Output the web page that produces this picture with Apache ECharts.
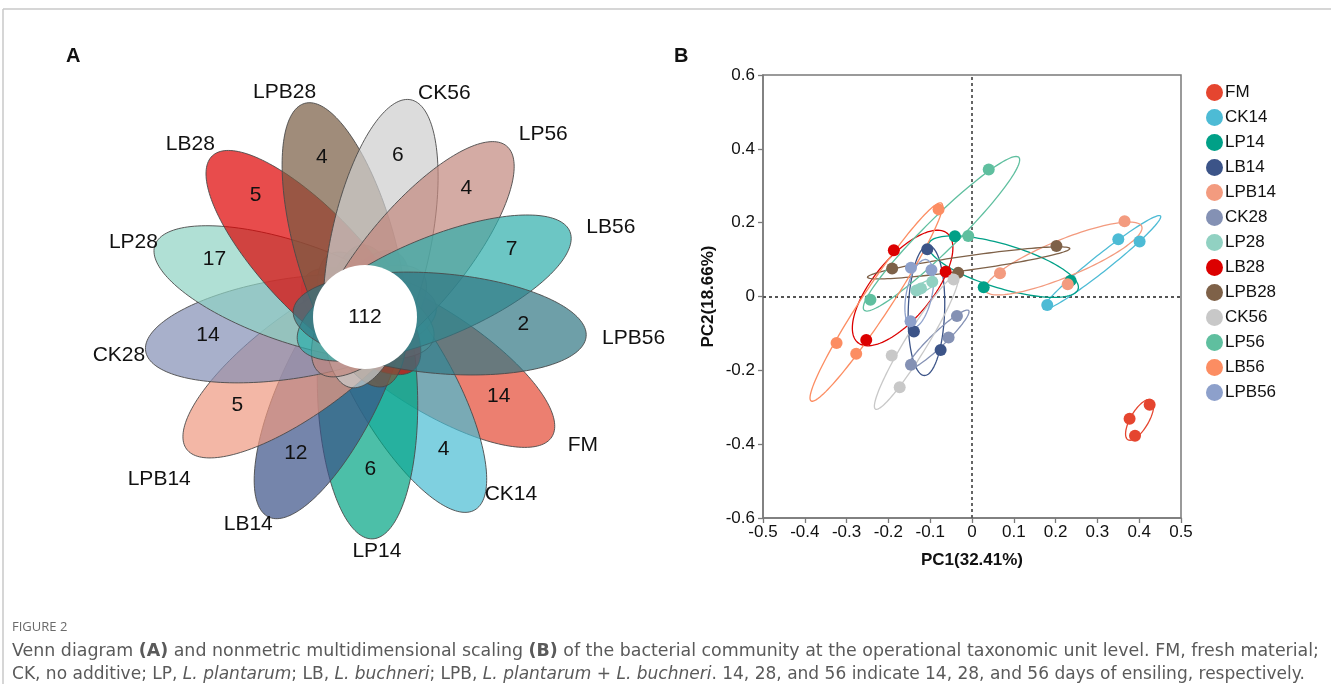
<!DOCTYPE html>
<html><head><meta charset="utf-8">
<script src="https://cdn.jsdelivr.net/npm/echarts@6/dist/echarts.min.js"></script>
<style>html,body{margin:0;padding:0;background:#fff}#c{width:1331px;height:684px}</style>
</head><body><div id="c"></div>
<script>
// ---------- shared ----------
const groups = ['FM','CK14','LP14','LB14','LPB14','CK28','LP28','LB28','LPB28','CK56','LP56','LB56','LPB56'];

// ---------- Panel A: flower Venn ----------
const vennCounts = [14, 4, 6, 12, 5, 14, 17, 5, 4, 6, 4, 7, 2];
const coreCount = 112;
const vennColors = [
  'rgba(228,72,51,0.7)', 'rgba(72,188,211,0.7)', 'rgba(0,164,131,0.7)', 'rgba(58,81,136,0.7)',
  'rgba(238,152,128,0.7)', 'rgba(131,142,181,0.7)', 'rgba(142,211,195,0.7)', 'rgba(222,0,0,0.7)',
  'rgba(119,91,65,0.7)', 'rgba(205,205,205,0.7)', 'rgba(194,135,126,0.7)', 'rgba(45,174,171,0.7)',
  'rgba(49,118,131,0.7)'
];
// placement of the sample names (radius, angle tweak in degrees)
const nameRadius   = [240, 214, 235, 227, 238, 223, 220, 229, 230, 230, 239, 239, 238];
const nameAngleAdj = [-0.3, -4.4, -1, -1.8, -6.4, -0.9, 0.9, 2.5, 3.5, 1.4, 0.4, 0.5, 0];

// ---------- Panel B: NMDS ----------
const pointColors = ['#E5452F','#4DBBD5','#00A087','#3C5488','#F39B7F','#8491B4','#91D1C2',
                     '#DC0000','#7E6148','#C8C8C8','#5FBF9F','#FC8D62','#8DA0CB'];
const FM_PC1    = [0.425, 0.377, 0.390];   const FM_PC2    = [-0.293, -0.331, -0.377];
const CK14_PC1  = [0.350, 0.401, 0.180];   const CK14_PC2  = [0.155, 0.149, -0.023];
const LP14_PC1  = [-0.041, 0.028, 0.236];  const LP14_PC2  = [0.163, 0.025, 0.043];
const LB14_PC1  = [-0.107, -0.139, -0.075];const LB14_PC2  = [0.128, -0.095, -0.145];
const LPB14_PC1 = [0.365, 0.067, 0.229];   const LPB14_PC2 = [0.204, 0.063, 0.033];
const CK28_PC1  = [-0.036, -0.056, -0.146];const CK28_PC2  = [-0.053, -0.111, -0.185];
const LP28_PC1  = [-0.095, -0.133, -0.122];const LP28_PC2  = [0.040, 0.016, 0.022];
const LB28_PC1  = [-0.187, -0.063, -0.253];const LB28_PC2  = [0.125, 0.067, -0.118];
const LPB28_PC1 = [-0.191, -0.033, 0.202]; const LPB28_PC2 = [0.076, 0.064, 0.137];
const CK56_PC1  = [-0.044, -0.192, -0.173];const CK56_PC2  = [0.046, -0.160, -0.246];
const LP56_PC1  = [0.040, -0.009, -0.243]; const LP56_PC2  = [0.344, 0.164, -0.009];
const LB56_PC1  = [-0.080, -0.324, -0.277];const LB56_PC2  = [0.236, -0.126, -0.155];
const LPB56_PC1 = [-0.146, -0.097, -0.147];const LPB56_PC2 = [0.078, 0.072, -0.067];
const pc1Lists = [FM_PC1,CK14_PC1,LP14_PC1,LB14_PC1,LPB14_PC1,CK28_PC1,LP28_PC1,LB28_PC1,LPB28_PC1,CK56_PC1,LP56_PC1,LB56_PC1,LPB56_PC1];
const pc2Lists = [FM_PC2,CK14_PC2,LP14_PC2,LB14_PC2,LPB14_PC2,CK28_PC2,LP28_PC2,LB28_PC2,LPB28_PC2,CK56_PC2,LP56_PC2,LB56_PC2,LPB56_PC2];

// group ellipses: centre, end of major axis, minor/major ratio (data units)
const ellCx    = [0.401, 0.311, 0.075, -0.109, 0.219, -0.081, -0.114, -0.166, -0.008, -0.133, -0.073, -0.229, -0.126];
const ellCy    = [-0.334, 0.092, 0.081, -0.038, 0.103, -0.117, 0.027, 0.023, 0.091, -0.124, 0.170, -0.015, 0.008];
const ellTipX  = [0.429, 0.451, 0.254, -0.104, 0.406, -0.008, -0.085, -0.059, 0.234, -0.035, 0.112, -0.073, -0.109];
const ellTipY  = [-0.280, 0.218, 0.020, 0.138, 0.190, -0.038, 0.045, 0.171, 0.130, 0.057, 0.377, 0.253, 0.100];
const ellRatio = [0.39, 0.11, 0.28, 0.28, 0.22, 0.17, 0.30, 0.42, 0.07, 0.14, 0.15, 0.12, 0.37];

const xTickMin = -0.5, xTickMax = 0.5, xTickStep = 0.1;
const yTickMin = -0.6, yTickMax = 0.6, yTickStep = 0.2;

// ---------- geometry / style constants ----------
const FONT = "'Liberation Sans', Arial, Helvetica, sans-serif";
const THETA0 = 122.7;           // angle of first petal, deg clockwise from up
const STEP = 360 / groups.length;
const PETAL_D = 75, PETAL_B = 147, PETAL_A = 50, CORE_R = 52;
const COUNT_R = 159, COUNT_LIFT = 6.5;

function dirOf(i, extra) {
  const th = (THETA0 + i * STEP + (extra || 0)) * Math.PI / 180;
  return [Math.sin(th), Math.cos(th)];
}

function petalItem(params, api) {
  const i = api.value(0);
  const d = dirOf(i);
  const p = [d[1], -d[0]];
  const pts = [];
  for (let k = 0; k <= 180; k++) {
    const a = k / 180 * Math.PI * 2;
    const s = PETAL_D + PETAL_B * Math.cos(a);
    const w = PETAL_A * Math.sin(a);
    pts.push(api.coord([s * d[0] + w * p[0], s * d[1] + w * p[1]]));
  }
  return { type: 'polygon', shape: { points: pts },
    style: { fill: vennColors[i], stroke: '#4a4a4a', lineWidth: 0.9 } };
}

function petalLabelItem(params, api) {
  const i = api.value(0);
  const dc = dirOf(i);
  const cp = api.coord([COUNT_R * dc[0], COUNT_R * dc[1] + COUNT_LIFT]);
  const dn = dirOf(i, nameAngleAdj[i]);
  const np = api.coord([nameRadius[i] * dn[0], nameRadius[i] * dn[1]]);
  const align = dn[0] > 0.15 ? 'left' : (dn[0] < -0.15 ? 'right' : 'center');
  return { type: 'group', children: [
    { type: 'text', x: cp[0], y: cp[1], style: { text: String(api.value(1)), fontSize: 21, fontFamily: FONT,
      fill: '#111', align: 'center', verticalAlign: 'middle' } },
    { type: 'text', x: np[0], y: np[1], style: { text: groups[i], fontSize: 21, fontFamily: FONT,
      fill: '#111', align: align, verticalAlign: 'middle' } }
  ] };
}

function coreItem(params, api) {
  const c = api.coord([api.value(0), api.value(1)]);
  const e = api.coord([CORE_R, 0]);
  const r = e[0] - c[0];
  return { type: 'group', children: [
    { type: 'circle', shape: { cx: c[0], cy: c[1], r: r }, style: { fill: '#ffffff', stroke: null } },
    { type: 'text', x: c[0], y: c[1], style: { text: String(api.value(2)), fontSize: 21, fontFamily: FONT,
      fill: '#111', align: 'center', verticalAlign: 'middle' } }
  ] };
}

function makeEllipseRender(color) {
  return function (params, api) {
    const c = api.coord([api.value(0), api.value(1)]);
    const t = api.coord([api.value(2), api.value(3)]);
    const r = api.value(4);
    const ux = t[0] - c[0], uy = t[1] - c[1];
    const vx = -uy * r, vy = ux * r;
    const pts = [];
    for (let k = 0; k <= 120; k++) {
      const a = k / 120 * Math.PI * 2;
      pts.push([c[0] + ux * Math.cos(a) + vx * Math.sin(a), c[1] + uy * Math.cos(a) + vy * Math.sin(a)]);
    }
    return { type: 'polygon', shape: { points: pts }, style: { fill: 'none', stroke: color, lineWidth: 1.3 } };
  };
}

const series = [];
const vennData = vennCounts.map((v, i) => [i, v]);
series.push({ type: 'custom', name: 'petals', xAxisIndex: 0, yAxisIndex: 0, clip: false,
  renderItem: petalItem, data: vennData, z: 1, silent: true });
series.push({ type: 'custom', name: 'core', xAxisIndex: 0, yAxisIndex: 0, clip: false,
  renderItem: coreItem, data: [[0, 0, coreCount]], z: 2, silent: true });
series.push({ type: 'custom', name: 'petalLabels', xAxisIndex: 0, yAxisIndex: 0, clip: false,
  renderItem: petalLabelItem, data: vennData, z: 3, silent: true });

groups.forEach((g, i) => {
  series.push({ type: 'custom', name: g + ' ellipse', xAxisIndex: 1, yAxisIndex: 1, clip: false, z: 3, silent: true,
    renderItem: makeEllipseRender(pointColors[i]),
    data: [[ellCx[i], ellCy[i], ellTipX[i], ellTipY[i], ellRatio[i]]] });
});
groups.forEach((g, i) => {
  const s = { type: 'scatter', name: g, xAxisIndex: 1, yAxisIndex: 1, z: 4, symbol: 'circle', symbolSize: 12,
    itemStyle: { color: pointColors[i], opacity: 1 },
    data: pc1Lists[i].map((x, k) => [x, pc2Lists[i][k]]) };
  if (i === 0) {
    s.markLine = { silent: true, symbol: 'none', label: { show: false }, z: 2,
      lineStyle: { type: [3, 3], color: '#555', width: 1.8 },
      data: [{ xAxis: 0 }, { yAxis: 0 }] };
  }
  series.push(s);
});

const tickFmt = v => String(Math.round(v * 10) / 10);

// caption sizing: fit measured width of each line
const cap1 = 'Venn diagram (A) and nonmetric multidimensional scaling (B) of the bacterial community at the operational taxonomic unit level. FM, fresh material;';
const cap2 = 'CK, no additive; LP, L. plantarum; LB, L. buchneri; LPB, L. plantarum + L. buchneri. 14, 28, and 56 indicate 14, 28, and 56 days of ensiling, respectively.';
const CAP_FONT = "'DejaVu Sans', 'Open Sans', sans-serif";
const mctx = document.createElement('canvas').getContext('2d');
mctx.font = "16px 'DejaVu Sans', 'Open Sans', sans-serif";
const capSize1 = Math.max(13, Math.min(17.5, 16 * 1300 / mctx.measureText(cap1).width));
const capSize2 = Math.max(13, Math.min(17.5, 16 * 1294 / mctx.measureText(cap2).width));

function richCap(sz) {
  return {
    b: { fontWeight: 'bold', fontSize: sz, fontFamily: CAP_FONT, fill: '#5a5a5a' },
    i: { fontStyle: 'italic', fontSize: sz, fontFamily: CAP_FONT, fill: '#5a5a5a' }
  };
}

const option = {
  animation: false,
  backgroundColor: '#ffffff',
  grid: [
    { left: 365 - 250, top: 317 - 250, width: 500, height: 500, show: false },
    { left: 763, top: 75, width: 418, height: 443, show: true, borderColor: '#7a7a7a', borderWidth: 1.5 }
  ],
  xAxis: [
    { gridIndex: 0, type: 'value', min: -250, max: 250, show: false },
    { gridIndex: 1, type: 'value', min: xTickMin, max: xTickMax, interval: xTickStep,
      name: 'PC1(32.41%)', nameLocation: 'middle', nameGap: 34,
      nameTextStyle: { fontSize: 17, fontWeight: 'bold', fontFamily: FONT, color: '#111' },
      axisLine: { onZero: false, lineStyle: { color: '#7a7a7a', width: 1.5 } },
      axisTick: { inside: false, length: 5, lineStyle: { color: '#7a7a7a', width: 1.3 } },
      axisLabel: { formatter: tickFmt, fontSize: 17, fontFamily: FONT, color: '#111', margin: 6,
        showMinLabel: true, showMaxLabel: true },
      splitLine: { show: false } }
  ],
  yAxis: [
    { gridIndex: 0, type: 'value', min: -250, max: 250, show: false },
    { gridIndex: 1, type: 'value', min: yTickMin, max: yTickMax, interval: yTickStep,
      name: 'PC2(18.66%)', nameLocation: 'middle', nameGap: 46, nameRotate: 90,
      nameTextStyle: { fontSize: 17, fontWeight: 'bold', fontFamily: FONT, color: '#111' },
      axisLine: { onZero: false, lineStyle: { color: '#7a7a7a', width: 1.5 } },
      axisTick: { inside: false, length: 5, lineStyle: { color: '#7a7a7a', width: 1.3 } },
      axisLabel: { formatter: tickFmt, fontSize: 17, fontFamily: FONT, color: '#111', margin: 8,
        showMinLabel: true, showMaxLabel: true },
      splitLine: { show: false } }
  ],
  legend: {
    orient: 'vertical', left: 1201, top: 79, itemWidth: 17, itemHeight: 17, itemGap: 8, icon: 'circle',
    data: groups, selectedMode: false,
    textStyle: { fontSize: 17, fontFamily: FONT, color: '#111', padding: [0, 0, 0, -3] }
  },
  graphic: [
    { type: 'line', shape: { x1: 3, y1: 9, x2: 1331, y2: 9 }, style: { stroke: '#c8c8c8', lineWidth: 1.5 }, silent: true },
    { type: 'line', shape: { x1: 3, y1: 9, x2: 3, y2: 684 }, style: { stroke: '#c8c8c8', lineWidth: 1.5 }, silent: true },
    { type: 'text', left: 66, top: 46, style: { text: 'A', fontSize: 20, fontWeight: 'bold', fontFamily: FONT, fill: '#111' } },
    { type: 'text', left: 674, top: 46, style: { text: 'B', fontSize: 20, fontWeight: 'bold', fontFamily: FONT, fill: '#111' } },
    { type: 'text', left: 12, top: 621, style: { text: 'FIGURE 2', fontSize: 13, fontFamily: "'Open Sans', sans-serif", fill: '#6a6a6a' } },
    { type: 'text', left: 12, top: 643, style: {
      text: 'Venn diagram {b|(A)} and nonmetric multidimensional scaling {b|(B)} of the bacterial community at the operational taxonomic unit level. FM, fresh material;',
      fontSize: capSize1, fontFamily: CAP_FONT, fill: '#5a5a5a', rich: richCap(capSize1) } },
    { type: 'text', left: 12, top: 666, style: {
      text: 'CK, no additive; LP, {i|L. plantarum}; LB, {i|L. buchneri}; LPB, {i|L. plantarum + L. buchneri}. 14, 28, and 56 indicate 14, 28, and 56 days of ensiling, respectively.',
      fontSize: capSize2, fontFamily: CAP_FONT, fill: '#5a5a5a', rich: richCap(capSize2) } }
  ],
  series: series
};

const chart = echarts.init(document.getElementById('c'), null, { renderer: 'canvas' });
chart.setOption(option);
</script>
</body></html>
